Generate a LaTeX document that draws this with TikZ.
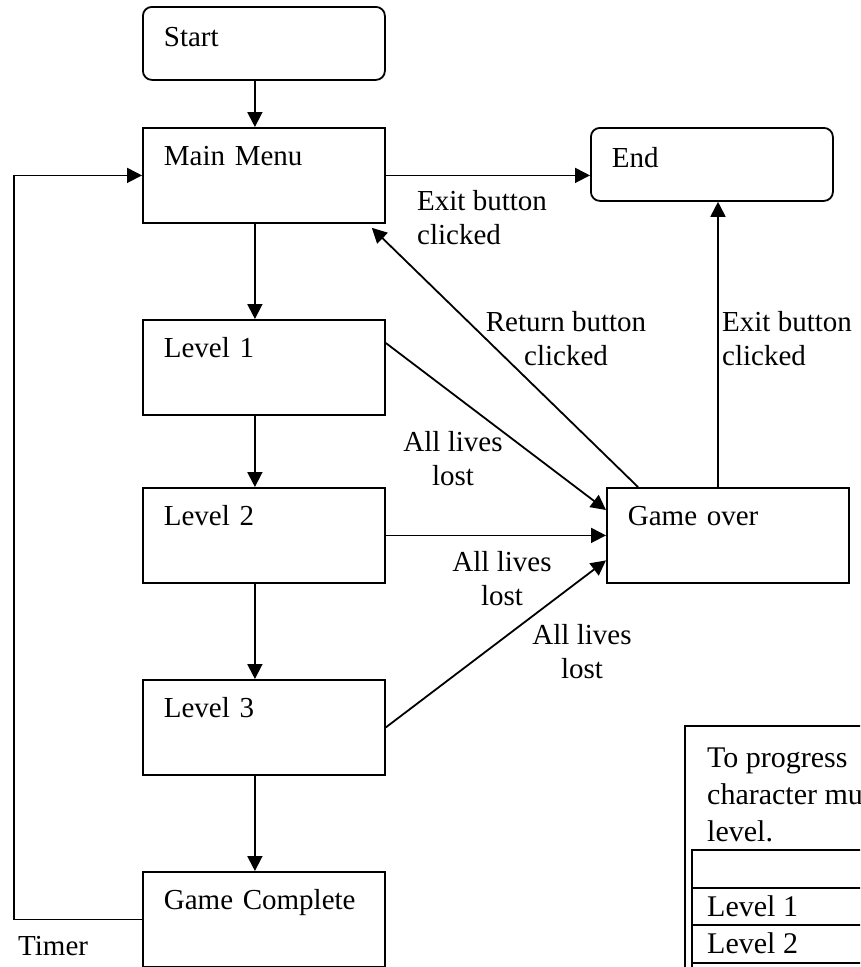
\documentclass[tikz,border=0pt]{standalone}
\usepackage{fontspec}
\setmainfont{Liberation Serif}
\usetikzlibrary{arrows.meta}

\tikzset{
	box/.style={draw, line width=1.8pt, anchor=north west, inner xsep=21pt, inner ysep=0pt,
		text width=200pt, align=left, text height=38pt, text depth=57pt},
	roundbox/.style={box, rounded corners=9pt, text height=40pt, text depth=33pt},
	lbl/.style={inner sep=0pt, align=center},
	arr/.style={line width=1.8pt, -{Triangle[length=15pt,width=15pt]}},
	grid/.style={line width=1.8pt},
}

\begin{document}
\begin{tikzpicture}[x=1pt, y=-1pt, font=\fontsize{29}{34}\selectfont]
		\useasboundingbox (0, 0) rectangle (860, 967);
		\clip (0, 0) rectangle (860, 967);

		\node[roundbox] (start) at (142, 6) {Start};
		\node[box] (menu) at (142, 127) {Main Menu};
		\node[box] (lvl1) at (142, 319) {Level 1};
		\node[box] (lvl2) at (142, 487) {Level 2};
		\node[box] (lvl3) at (142, 679) {Level 3};
		\node[box] (done) at (142, 871) {Game Complete};
		\node[box] (over) at (606, 487) {Game over};
		\node[roundbox] (finish) at (590, 127) {End};

		\foreach \s/\t in {start/menu, menu/lvl1, lvl1/lvl2, lvl2/lvl3, lvl3/done} {
			\draw[arr] ([xshift=-9pt]\s.south) -- ([xshift=-9pt]\t.north);
		}
		\draw[arr] (menu.east) -- (menu.east -| finish.west);
		\draw[arr] ([xshift=32pt]over.north west) -- ([xshift=-14pt,yshift=-4pt]menu.south east);
		\draw[arr] ([xshift=112pt]over.north west) -- ([xshift=112pt]over.north west |- finish.south);
		\draw[arr] ([yshift=-24pt]lvl1.north east) -- ([yshift=-23pt]over.north west);
		\draw[arr] (lvl2.east) -- (over.west);
		\draw[arr] (lvl3.east) -- ([yshift=-25pt]over.west);
		\draw[arr] (done.west) -- ++(-128, 0) |- (menu.west);

		% labels sit on the baseline of their last line
		\node[lbl, anchor=base west, align=left] (exitmenu) at (417, 244) {Exit button\\clicked};
		\node[lbl, anchor=base] (return) at (566, 365) {Return button\\clicked};
		\node[lbl, anchor=base west, align=left] (exitover) at (722, 365) {Exit button\\clicked};
		\node[lbl, anchor=base] (lost1) at (453, 485) {All lives\\lost};
		\node[lbl, anchor=base] (lost2) at (502, 605) {All lives\\lost};
		\node[lbl, anchor=base] (lost3) at (582, 678) {All lives\\lost};
		\node[lbl, anchor=base west] (timer) at (18, 955) {Timer};

		% note table, cut off by the page edge
		\draw[grid] (685, 726) rectangle (900, 1000);
		\draw[grid] (692, 1000) |- (900, 850);
		\foreach \y in {888, 925, 963} {
			\draw[grid] (692, \y) -- (900, \y);
		}
		\node[lbl, anchor=base west, align=left, font=\fontsize{30}{37}\selectfont] (note) at (707, 841) {To progress\\character mu\\level.};
		\node[lbl, anchor=base west, font=\fontsize{30}{37}\selectfont] (row1) at (707, 916) {Level 1};
		\node[lbl, anchor=base west, font=\fontsize{30}{37}\selectfont] (row2) at (707, 953) {Level 2};
	\end{tikzpicture}
\end{document}
